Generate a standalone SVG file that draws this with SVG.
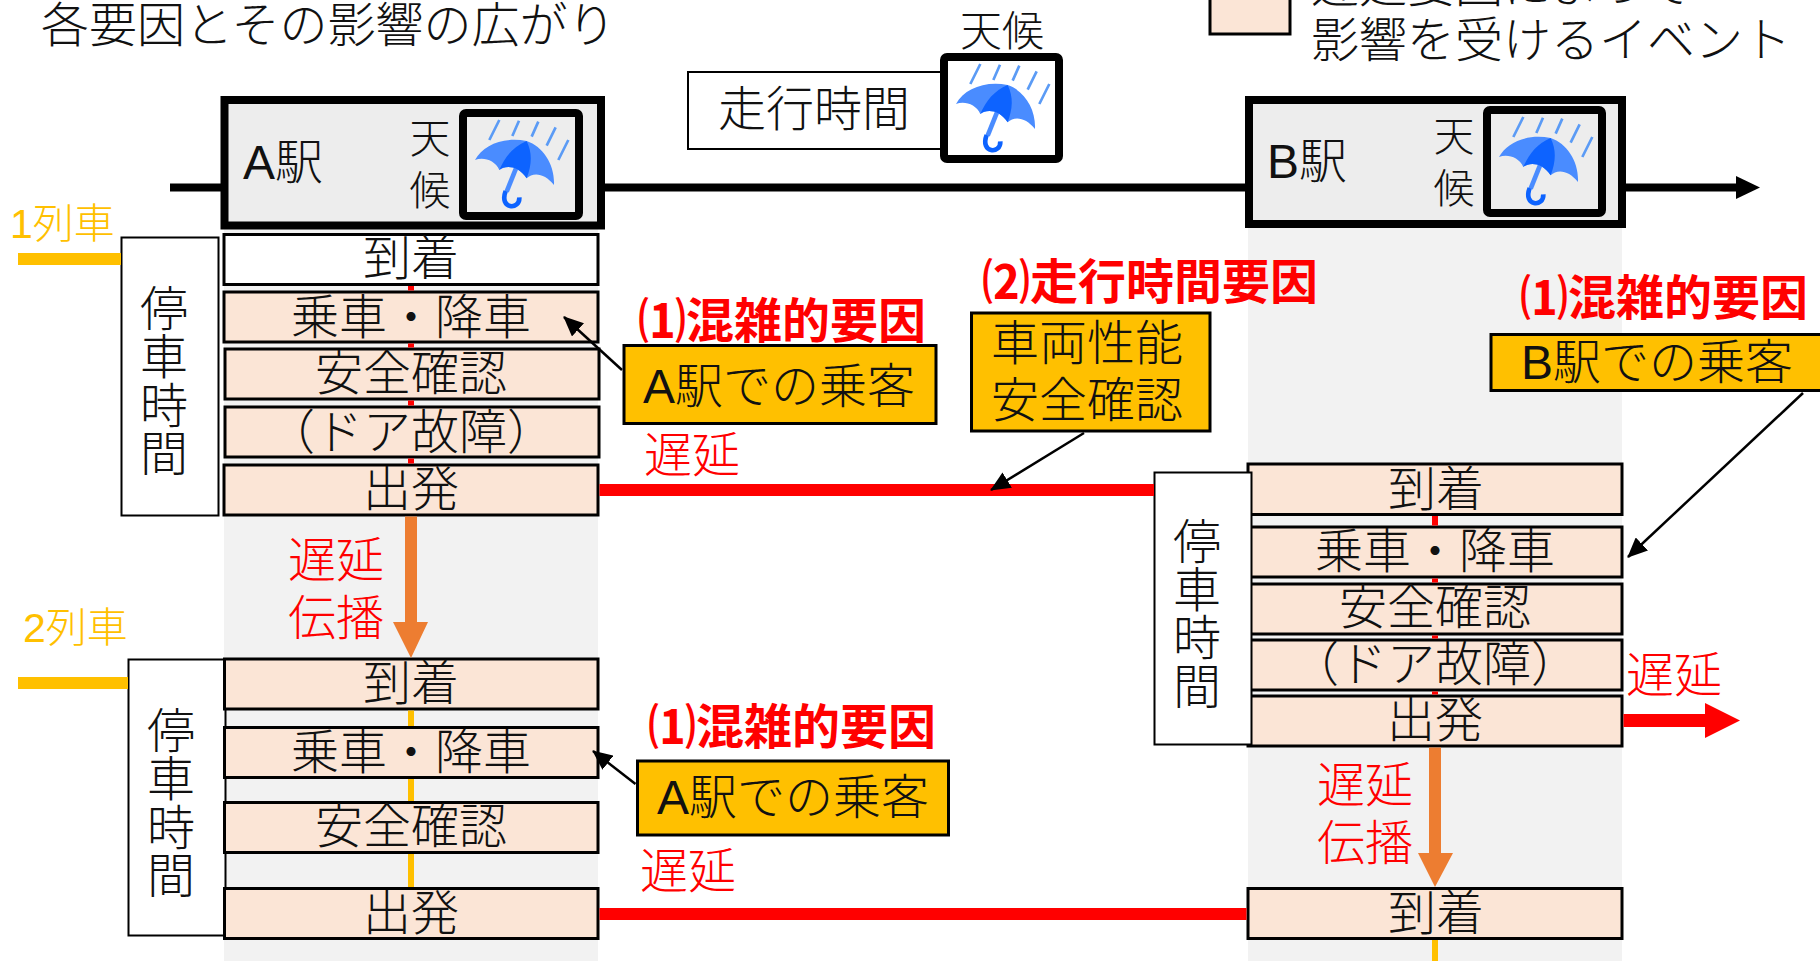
<svg xmlns="http://www.w3.org/2000/svg" xmlns:xlink="http://www.w3.org/1999/xlink" width="1820" height="961" viewBox="0 0 1820 961">
<style>
text{font-family:"Noto Sans CJK JP","Noto Sans",sans-serif;font-size:48px;font-weight:300;fill:#111;text-anchor:middle}
.l{text-anchor:start}
.red{fill:#f00}
.b{font-weight:700;fill:#f00;text-anchor:start}
.y{fill:#ffc000;font-size:41px;text-anchor:start}
.ev{fill:#fbe5d6;stroke:#000;stroke-width:3}
.tm{fill:#fff;stroke:#000;stroke-width:2}
.fac{fill:#ffc000;stroke:#000;stroke-width:3}
.st{fill:#ededed;stroke:#000;stroke-width:8}
.wx{stroke:#000;stroke-width:8}
.lbl{font-size:41px}
.lat{font-family:"Liberation Sans",sans-serif;font-weight:400}
.arr{stroke:#000;stroke-width:2.500;marker-end:url(#ah)}
</style>
<defs>
<marker id="ah" markerUnits="userSpaceOnUse" markerWidth="20" markerHeight="18" refX="19" refY="9" orient="auto"><path d="M0 0L20 9L0 18z" fill="#000"/></marker>
<g id="umb">
<path d="M178 90L148 150M237 92L217 138M295 95L275 140M347 112L320 167M385 150L355 210" stroke="#5b9bf5" stroke-width="8" fill="none"/>
<path d="M228 235L200 305" stroke="#4a8cff" stroke-width="14" fill="none"/>
<path d="M197 303C176 358 240 362 238 322" stroke="#0d63ff" stroke-width="14" fill="none"/>
<path d="M260 153C190 140 130 165 105 210C130 200 165 210 178 240C195 225 235 225 260 265C280 245 315 250 342 285C345 225 310 170 260 153z" fill="#4a8cff"/>
<path d="M260 153C220 170 195 200 178 240C195 225 235 225 260 265C275 225 278 190 260 153z" fill="#0d63ff"/>
</g>
</defs>
<rect width="1820" height="961" fill="#fff"/>
<rect x="224" y="229" width="374" height="732" fill="#f2f2f2"/>
<rect x="1248" y="228" width="374" height="733" fill="#f2f2f2"/>
<g id="title"><text class="l" x="41" y="42">各要因とその影響の広がり</text></g>
<g id="legend">
<rect x="1210" y="-10" width="80" height="44" class="ev"/>
<text class="l" x="1311" y="2">遅延要因によって</text>
<text class="l" x="1311" y="57">影響を受けるイベント</text>
</g>
<g id="station-a">
<rect x="224.500" y="100" width="376.500" height="125.500" class="st"/>
<text class="l" x="243" y="179"><tspan class="lat">A</tspan>駅</text>
<text class="lbl" x="430" y="153">天</text><text class="lbl" x="430" y="205">候</text>
<rect x="463" y="113" width="116" height="103" rx="3" class="wx" fill="#ededed"/>
<use xlink:href="#umb" href="#umb" transform="translate(440,90) scale(.3333)"/>
</g>
<g id="running-time">
<rect x="688" y="72" width="255" height="77" class="tm"/>
<text class="l" x="718" y="126">走行時間</text>
<text x="1002" y="46" style="font-size:42px">天候</text>
<rect x="944" y="57" width="115" height="102" rx="3" class="wx" fill="#fff"/>
<use xlink:href="#umb" href="#umb" transform="translate(921,34) scale(.3333)"/>
</g>
<g id="station-b">
<rect x="1249" y="100" width="373" height="124" class="st"/>
<text class="l" x="1267" y="178"><tspan class="lat">B</tspan>駅</text>
<text class="lbl" x="1454" y="151">天</text><text class="lbl" x="1454" y="203">候</text>
<rect x="1487" y="110" width="115" height="103" rx="3" class="wx" fill="#ededed"/>
<use xlink:href="#umb" href="#umb" transform="translate(1464,87) scale(.3333)"/>
</g>
<g id="train1">
<text class="y" x="10" y="238"><tspan class="lat">1</tspan>列車</text>
<rect x="121.500" y="237.500" width="97" height="278" class="tm"/>
<text x="164" y="326">停</text><text x="164" y="374">車</text><text x="164" y="423">時</text><text x="164" y="471">間</text>
<g id="a1-arrive"><rect x="224" y="234.500" width="374" height="50" fill="#fff" stroke="#000" stroke-width="3"/><text x="411" y="275">到着</text></g>
<g id="a1-board"><rect x="224" y="292" width="374" height="50" class="ev"/><text x="411" y="334">乗車・降車</text></g>
<g id="a1-safety"><rect x="225" y="349" width="374" height="50" class="ev"/><text x="411" y="390">安全確認</text></g>
<g id="a1-door"><rect x="225" y="407" width="374" height="50" class="ev"/><text x="411" y="449">（ドア故障）</text></g>
<g id="a1-depart"><rect x="224" y="465" width="374" height="50" class="ev"/><text x="411" y="506">出発</text></g>
</g>
<g id="factor-a1">
<text class="b" x="638" y="338">⑴混雑的要因</text>
<rect x="624" y="345.500" width="312" height="78" class="fac"/>
<text class="l" x="643" y="403"><tspan class="lat">A</tspan>駅での乗客</text>
</g>
<text class="red l" x="644" y="472">遅延</text>
<g id="factor-run">
<text class="b" x="982" y="299">⑵走行時間要因</text>
<rect x="971.500" y="313" width="238.500" height="118" class="fac"/>
<text class="l" x="991" y="360">車両性能</text>
<text class="l" x="991" y="417">安全確認</text>
</g>
<g id="factor-b">
<text class="b" x="1520" y="315">⑴混雑的要因</text>
<rect x="1491" y="334.500" width="340" height="56" class="fac"/>
<text class="l" x="1521" y="379"><tspan class="lat">B</tspan>駅での乗客</text>
</g>
<text class="red" x="336" y="577">遅延</text><text class="red" x="336" y="635">伝播</text>
<g id="train2">
<text class="y" x="23" y="642"><tspan class="lat">2</tspan>列車</text>
<rect x="128.500" y="659.500" width="97" height="276" class="tm"/>
<text x="171" y="748">停</text><text x="171" y="796">車</text><text x="171" y="845">時</text><text x="171" y="893">間</text>
<g id="a2-arrive"><rect x="224.500" y="659" width="373.500" height="50" class="ev"/><text x="411" y="700">到着</text></g>
<g id="a2-board"><rect x="224.500" y="727.500" width="373.500" height="50" class="ev"/><text x="411" y="769">乗車・降車</text></g>
<g id="a2-safety"><rect x="224.500" y="802.500" width="373.500" height="50" class="ev"/><text x="411" y="843">安全確認</text></g>
<g id="a2-depart"><rect x="224.500" y="888.500" width="373.500" height="50" class="ev"/><text x="411" y="930">出発</text></g>
</g>
<g id="factor-a2">
<text class="b" x="648" y="744">⑴混雑的要因</text>
<rect x="637.500" y="761" width="311" height="74" class="fac"/>
<text class="l" x="657" y="814"><tspan class="lat">A</tspan>駅での乗客</text>
</g>
<text class="red l" x="640" y="888">遅延</text>
<g id="train1-b">
<g id="b1-arrive"><rect x="1248" y="464" width="374" height="50.500" class="ev"/><text x="1436" y="506">到着</text></g>
<g id="b1-board"><rect x="1248" y="527" width="374" height="50" class="ev"/><text x="1435" y="568">乗車・降車</text></g>
<g id="b1-safety"><rect x="1248" y="584" width="374" height="50" class="ev"/><text x="1435" y="624">安全確認</text></g>
<g id="b1-door"><rect x="1248" y="640" width="374" height="50" class="ev"/><text x="1435" y="681">（ドア故障）</text></g>
<g id="b1-depart"><rect x="1248" y="696" width="374" height="50" class="ev"/><text x="1435" y="737">出発</text></g>
<rect x="1154.500" y="472.500" width="97" height="272" class="tm"/>
<text x="1197" y="559">停</text><text x="1197" y="607">車</text><text x="1197" y="655">時</text><text x="1197" y="704">間</text>
</g>
<text class="red l" x="1626" y="692">遅延</text>
<text class="red" x="1365" y="802">遅延</text><text class="red" x="1365" y="860">伝播</text>
<g id="b2-arrive"><rect x="1248" y="888.500" width="374" height="50" class="ev"/><text x="1436" y="930">到着</text></g>
<g id="connectors" fill="none">
<path d="M170 187.500H221M605 187.500H1245M1626 187.500H1736" stroke="#000" stroke-width="8"/>
<path d="M1736 176L1760 187.500L1736 199z" fill="#000"/>
<path d="M18 259H121M18 683H128" stroke="#ffc000" stroke-width="12"/>
<path d="M411 286V290.500M411 343.500V347.500M411 400.500V405.500M411 458.500V463.500M1435 516V525.500M1435 578.500V582.500M1435 635.500V638.500M1435 691.500V694.500" stroke="#f00" stroke-width="6"/>
<path d="M411 710.500V726M411 779V801M411 854V887M1435 940V961" stroke="#ffc000" stroke-width="6"/>
<path d="M599.500 490H1154M599.500 914H1246.500" stroke="#f00" stroke-width="12"/>
<path d="M1623.500 720.500H1705" stroke="#f00" stroke-width="13"/>
<path d="M1705 703L1740 720.500L1705 738z" fill="#f00"/>
<path d="M411 516.500V622M1435 747.500V853" stroke="#ed7d31" stroke-width="12"/>
<path d="M393 622H428L411 658zM1418 853H1453L1435 887z" fill="#ed7d31"/>
<path class="arr" d="M622 370L564 317"/>
<path class="arr" d="M1084 433L991 490"/>
<path class="arr" d="M1803 393L1628 557"/>
<path class="arr" d="M635.500 784L593 751"/>
</g>
</svg>
